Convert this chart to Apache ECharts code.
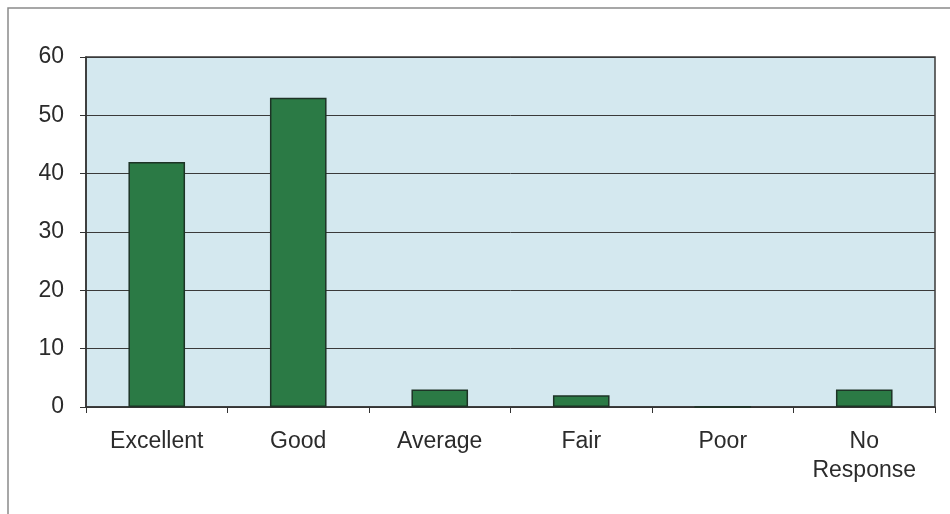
<!DOCTYPE html>
<html><head><meta charset="utf-8">
<script src="https://cdn.jsdelivr.net/npm/echarts@6/dist/echarts.min.js"></script>
<style>html,body{margin:0;padding:0;background:#fff}#c{width:950px;height:514px}</style>
</head><body><div id="c"></div>
<script>
const categories = ['Excellent', 'Good', 'Average', 'Fair', 'Poor', 'No\nResponse'];
const values = [42, 53, 3, 2, 0, 3];
const yTicks = [0, 10, 20, 30, 40, 50, 60];

const chart = echarts.init(document.getElementById('c'));
chart.setOption({
  animation: false,
  backgroundColor: '#ffffff',
  graphic: [{
    type: 'rect', z: -10,
    shape: { x: 8, y: 8, width: 1000, height: 700 },
    style: { fill: 'none', stroke: '#8a8a8a', lineWidth: 1.5 }
  }],
  grid: {
    left: 86, right: 15, top: 57, bottom: 107,
    show: true, backgroundColor: '#d4e8ef', borderColor: '#3a3a3a', borderWidth: 1.5
  },
  xAxis: {
    type: 'category', data: categories,
    axisLine: { lineStyle: { color: '#333', width: 1.5 } },
    axisTick: { show: true, length: 6, lineStyle: { color: '#333' } },
    axisLabel: { color: '#2b2b2b', fontSize: 23, fontFamily: 'Liberation Sans', margin: 20, lineHeight: 29 }
  },
  yAxis: {
    type: 'value', min: yTicks[0], max: yTicks[yTicks.length - 1], interval: 10,
    axisLine: { show: true, lineStyle: { color: '#333', width: 1.5 } },
    axisTick: { show: true, length: 6, lineStyle: { color: '#333' } },
    axisLabel: { color: '#2b2b2b', fontSize: 23, fontFamily: 'Liberation Sans', margin: 22 },
    splitLine: { show: true, lineStyle: { color: '#3a3a3a', width: 1 } }
  },
  series: [{
    type: 'bar', data: values, barWidth: '40%',
    itemStyle: { color: '#2b7a45', borderColor: '#1d3326', borderWidth: 1.5 }
  }]
});
</script></body></html>
